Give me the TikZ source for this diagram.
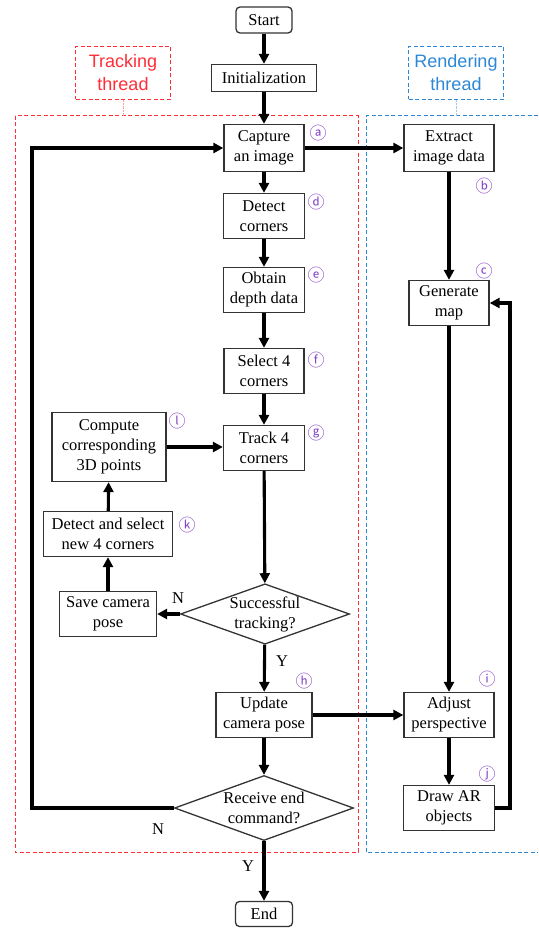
\documentclass[tikz,border=0pt]{standalone}
\usepackage{fontspec}
\setmainfont{Liberation Serif}
\newfontfamily\lblfont{Liberation Sans}
\newfontfamily\circfont{Noto Sans CJK SC}
\usetikzlibrary{arrows.meta}
\usetikzlibrary{shapes.geometric}
\definecolor{trackred}{RGB}{255,45,55}
\definecolor{rendblue}{RGB}{45,135,215}
\definecolor{tagpurple}{RGB}{135,70,200}

\begin{document}
\begin{tikzpicture}[x=1pt,y=-1pt,font=\fontsize{16.5}{20}\selectfont,
	box/.style={draw=black!80,line width=1.3pt,align=center,inner sep=2pt,minimum height=45pt},
	term/.style={box,rounded corners=4pt,minimum height=26pt},
	decide/.style={draw=black!80,line width=1.3pt,diamond,aspect=2.8,inner sep=0pt,align=center},
	flow/.style={line width=3.1pt,-{Triangle[length=10pt,width=10pt]}},
	frame/.style={line width=1pt,dash pattern=on 4pt off 2.5pt},
	thread/.style={frame,align=center,minimum width=95pt,minimum height=53pt,font=\lblfont\fontsize{18}{23}\selectfont},
	letr/.style={text=tagpurple,font=\circfont\fontsize{17}{17}\selectfont,inner sep=0pt},
	yn/.style={inner sep=0pt}]
	\useasboundingbox (0,0) rectangle (538,928);
	
	% thread frames
	
	\draw[frame,trackred] (15,116) rectangle (358,852);
	\draw[frame,rendblue] (538,116) -- (366,116) -- (366,852) -- (538,852);
	\node[thread,draw=trackred,text=trackred] (trkl) at (123,73) {Tracking\\thread};
	\node[thread,draw=rendblue,text=rendblue] (rndl) at (456,73) {Rendering\\thread};
	\coordinate (trktop) at (123,116);
	\coordinate (rndtop) at (456,116);
	\draw[trackred!45,densely dotted] (trkl) -- (trktop);
	\draw[rendblue!45,densely dotted] (rndl) -- (rndtop);
	
	% tracking thread
	
	\node[term,minimum width=56pt] (start) at (264,20) {Start};
	\node[box,minimum width=105pt,minimum height=27pt] (init) at (264,78) {Initialization};
	\node[box,minimum width=80pt,minimum height=47pt] (cap) at (264,148) {Capture\\an image};
	\node[box,minimum width=81pt] (det) at (264,216) {Detect\\corners};
	\node[box,minimum width=81pt] (obt) at (264,290) {Obtain\\depth data};
	\node[box,minimum width=80pt] (sel) at (264,371) {Select 4\\corners};
	\node[box,minimum width=81pt] (trk) at (264,448) {Track 4\\corners};
	\node[box,minimum width=114pt,minimum height=69pt] (comp) at (109,447) {Compute\\corresponding\\3D points};
	\node[box,minimum width=129pt] (detnew) at (108,534) {Detect and select\\new 4 corners};
	\node[box,minimum width=97pt] (save) at (108,614) {Save camera\\pose};
	\node[decide,minimum width=168pt,minimum height=60pt] (succ) at (265,614) {Successful\\tracking?};
	\node[box,minimum width=96pt] (upd) at (264,715) {Update\\camera pose};
	\node[decide,minimum width=179pt,minimum height=65pt,aspect=2.75] (recv) at (264,808) {Receive end\\command?};
	\node[term,minimum width=57pt,minimum height=25pt] (endn) at (264,914) {End};
	
	% rendering thread
	
	\node[box,minimum width=90pt,minimum height=47pt] (ext) at (449,148) {Extract\\image data};
	\node[box,minimum width=80pt] (gen) at (449,303) {Generate\\map};
	\node[box,minimum width=90pt] (adj) at (449,715) {Adjust\\perspective};
	\node[box,minimum width=91pt] (drw) at (449,808) {Draw AR\\objects};
	
	% step tags
	
	\foreach \l/\x/\y in {ⓐ/318/133,ⓑ/484/186,ⓒ/484/271,ⓓ/316/202,ⓔ/316/275,ⓕ/316/360,ⓖ/316/433,ⓗ/304/681,ⓘ/487/679,ⓙ/487/774,ⓚ/187/525,ⓛ/177/421} {
		\node[letr] (T\x\y) at (\x,\y) {\l};
	}
	
	% Y/N
	
	\node[yn] (n1) at (178,598) {N};
	\node[yn] (y1) at (282,661) {Y};
	\node[yn] (n2) at (158,829) {N};
	\node[yn] (y2) at (248,866) {Y};
	
	\coordinate (loopx) at (32,0);
	\coordinate (backx) at (510,0);
	
	\draw[flow] (start) -- (init);
	\draw[flow] (init) -- (cap);
	\draw[flow] (cap) -- (det);
	\draw[flow] (det) -- (obt);
	\draw[flow] (obt) -- (sel);
	\draw[flow] (sel) -- (trk);
	\draw[flow] (trk) -- (succ);
	\draw[flow] (succ.west) -- (save.east);
	\draw[flow] (save) -- (detnew);
	\draw[flow] (detnew) -- (comp);
	\draw[flow] (comp.east) -- (comp.east -| trk.west);
	\draw[flow] (succ) -- (upd);
	\draw[flow] (upd) -- (recv);
	\draw[flow] (recv.west) -- (recv.west -| loopx) |- (cap.west);
	\draw[flow] (recv) -- (endn);
	\draw[flow] (cap) -- (ext);
	\draw[flow] (ext) -- (gen);
	\draw[flow] (gen) -- (adj);
	\draw[flow] (upd) -- (adj);
	\draw[flow] (adj) -- (drw);
	\draw[flow] (drw.east) -- (drw.east -| backx) |- (gen.east);
	
\end{tikzpicture}
\end{document}
